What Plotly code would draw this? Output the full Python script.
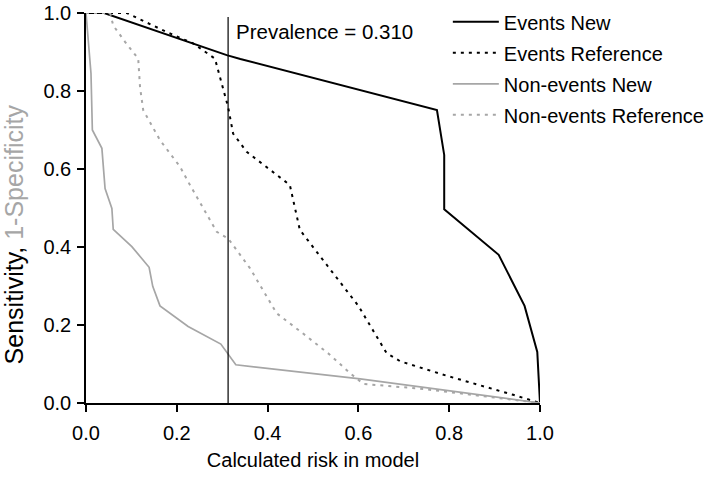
import plotly.graph_objects as go

# Data
events_new_x = [0.0, 0.04, 0.31, 0.34, 0.773, 0.789, 0.789, 0.909, 0.966, 0.994, 1.0]
events_new_y = [1.0, 1.0, 0.892, 0.882, 0.751, 0.636, 0.497, 0.380, 0.249, 0.131, 0.0]

events_ref_x = [0.0, 0.06, 0.09, 0.178, 0.236, 0.284, 0.302, 0.313, 0.324, 0.354, 0.449, 0.471, 0.533, 0.600, 0.662, 0.692, 0.794, 0.853, 0.941, 1.0]
events_ref_y = [1.0, 1.0, 1.0, 0.951, 0.922, 0.883, 0.802, 0.759, 0.691, 0.644, 0.559, 0.444, 0.350, 0.249, 0.128, 0.107, 0.070, 0.051, 0.021, 0.0]

nonevents_new_x = [0.0, 0.011, 0.014, 0.035, 0.042, 0.057, 0.060, 0.101, 0.139, 0.147, 0.163, 0.225, 0.297, 0.330, 0.604, 1.0]
nonevents_new_y = [1.0, 0.845, 0.700, 0.653, 0.550, 0.499, 0.445, 0.401, 0.348, 0.299, 0.249, 0.196, 0.151, 0.098, 0.062, 0.0]

nonevents_ref_x = [0.0, 0.053, 0.060, 0.086, 0.115, 0.119, 0.126, 0.163, 0.207, 0.229, 0.288, 0.313, 0.361, 0.420, 0.486, 0.537, 0.581, 0.611, 0.743, 0.875, 1.0]
nonevents_ref_y = [1.0, 1.0, 0.968, 0.926, 0.883, 0.810, 0.751, 0.674, 0.606, 0.559, 0.439, 0.422, 0.346, 0.230, 0.171, 0.124, 0.077, 0.049, 0.036, 0.017, 0.0]

prevalence = 0.310
tick_vals = [0.0, 0.2, 0.4, 0.6, 0.8, 1.0]
tick_text = ["0.0", "0.2", "0.4", "0.6", "0.8", "1.0"]

GRAY = "#a6a6a6"
FONT = "Arial, Liberation Sans, sans-serif"

fig = go.Figure()
fig.add_trace(go.Scatter(x=events_new_x, y=events_new_y, mode="lines", name="Events New",
                         line=dict(color="black", width=2), legendgroup="a"))
fig.add_trace(go.Scatter(x=events_ref_x, y=events_ref_y, mode="lines", name="Events Reference",
                         line=dict(color="black", width=2, dash="3px,5px"), legendgroup="b"))
fig.add_trace(go.Scatter(x=nonevents_new_x, y=nonevents_new_y, mode="lines", name="Non-events New",
                         line=dict(color=GRAY, width=1.7), legendgroup="c"))
fig.add_trace(go.Scatter(x=nonevents_ref_x, y=nonevents_ref_y, mode="lines", name="Non-events Reference",
                         line=dict(color=GRAY, width=2, dash="3px,5px"), legendgroup="d"))

fig.add_shape(type="line", xref="x", yref="y", x0=prevalence + 0.003, x1=prevalence + 0.003, y0=0, y1=0.99,
              line=dict(color="black", width=1.2))
fig.add_annotation(x=prevalence + 0.003, y=0.953, xref="x", yref="y", xanchor="left", yanchor="middle",
                   xshift=6, text=f"Prevalence = {prevalence:.3f}", showarrow=False,
                   font=dict(size=20.5, color="black", family=FONT))

# y-axis title (placed as annotation to match the reference's offset)
fig.add_annotation(x=-0.158, y=0.433, xref="paper", yref="paper", xanchor="center", yanchor="middle",
                   text=f"Sensitivity, <span style='color:{GRAY}'>1-Specificity</span>", textangle=-90,
                   showarrow=False, font=dict(size=25, color="black", family=FONT))

fig.update_layout(
    width=717, height=477,
    margin=dict(l=86, r=177, t=13, b=74, autoexpand=False),
    paper_bgcolor="white", plot_bgcolor="white",
    font=dict(family=FONT, size=20, color="black"),
    showlegend=True,
    legend=dict(x=0.797, y=1.0275, xanchor="left", yanchor="top", bgcolor="rgba(0,0,0,0)",
                font=dict(size=20, family=FONT), traceorder="grouped", tracegroupgap=2,
                itemwidth=46),
    xaxis=dict(range=[0, 1], tickvals=tick_vals, ticktext=tick_text, showgrid=False, zeroline=False,
               showline=True, linecolor="black", linewidth=1.5, ticks="outside", ticklen=7,
               tickcolor="black", tickwidth=1.5, ticklabelstandoff=4,
               title=dict(text="Calculated risk in model", font=dict(size=20), standoff=10)),
    yaxis=dict(range=[0, 1], tickvals=tick_vals, ticktext=tick_text, showgrid=False, zeroline=False,
               showline=True, linecolor="black", linewidth=1.5, ticks="outside", ticklen=7,
               tickcolor="black", tickwidth=1.5, ticklabelstandoff=2),
)

# remove the default 8px page margin so the figure sits at the window's corner
fig.write_html("out.html", config={"displayModeBar": False},
               post_script="document.body.style.margin='0';")
